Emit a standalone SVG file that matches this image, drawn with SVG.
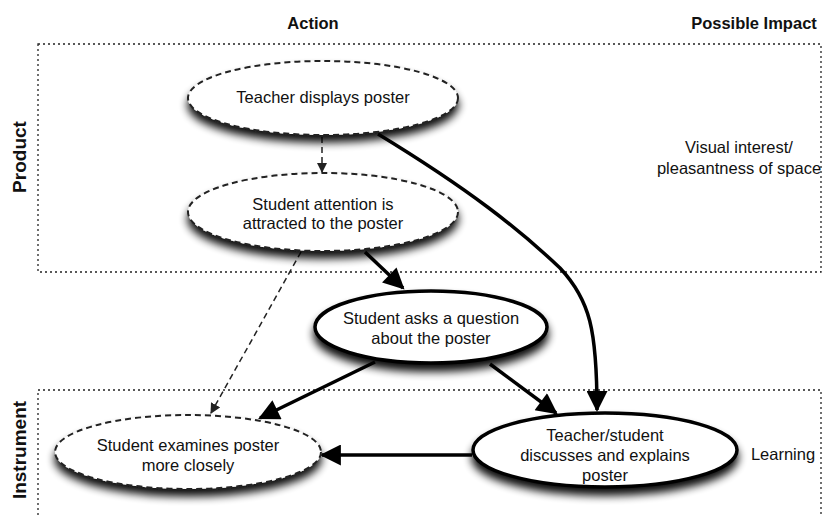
<svg xmlns="http://www.w3.org/2000/svg" width="825" height="517" viewBox="0 0 825 517">
  <style>
    .zone { fill: none; stroke: #222; stroke-width: 1.3; stroke-dasharray: 2 3; }
    .head { font-family: "Liberation Sans", Arial, sans-serif; font-size: 16.5px; font-weight: bold; fill: #111; }
    .side { font-family: "Liberation Sans", Arial, sans-serif; font-size: 19px; font-weight: bold; fill: #111; text-anchor: middle; }
    .lbl { font-family: "Liberation Sans", Arial, sans-serif; font-size: 16.5px; fill: #111; text-anchor: middle; }
    .node-dash { fill: #fff; stroke: #222; stroke-width: 2; stroke-dasharray: 6 4; }
    .node-solid { fill: #fff; stroke: #000; stroke-width: 3.5; }
    .edge { fill: none; stroke: #000; stroke-width: 3.5; }
    .edge-dash { fill: none; stroke: #222; stroke-width: 1.5; stroke-dasharray: 6 4; }
  </style>
  <defs>
    <filter id="shadow" x="-20%" y="-30%" width="140%" height="170%">
      <feGaussianBlur in="SourceAlpha" stdDeviation="4"/>
      <feOffset dx="0" dy="7" result="blur"/>
      <feComponentTransfer><feFuncA type="linear" slope="0.95"/></feComponentTransfer>
      <feMerge><feMergeNode/><feMergeNode in="SourceGraphic"/></feMerge>
    </filter>
    <marker id="arrow" viewBox="0 0 10 10" refX="9" refY="5" markerWidth="6.5" markerHeight="6" markerUnits="strokeWidth" orient="auto">
      <path d="M0,0 L10,5 L0,10 Z" fill="#000"/>
    </marker>
    <marker id="arrow-small" viewBox="0 0 10 10" refX="9" refY="5" markerWidth="7" markerHeight="7" markerUnits="strokeWidth" orient="auto">
      <path d="M0,0 L10,5 L0,10 Z" fill="#222"/>
    </marker>
  </defs>

  <rect width="825" height="517" fill="#fff"/>

  <!-- column headings -->
  <text class="head" x="313" y="29" text-anchor="middle">Action</text>
  <text class="head" x="754" y="29" text-anchor="middle">Possible Impact</text>

  <!-- zones -->
  <g id="zone-product">
    <rect class="zone" x="38" y="44" width="783" height="228"/>
    <text class="side" transform="translate(26,157) rotate(-90)">Product</text>
  </g>
  <g id="zone-instrument">
    <path class="zone" d="M38,520 L38,390 L821,390 L821,520"/>
    <text class="side" transform="translate(26,450) rotate(-90)">Instrument</text>
  </g>

  <!-- impacts -->
  <g id="impact-visual">
    <text class="lbl" x="739" y="153">Visual interest/</text>
    <text class="lbl" x="739" y="174">pleasantness of space</text>
  </g>
  <g id="impact-learning">
    <text class="lbl" x="783" y="460">Learning</text>
  </g>

  <!-- connectors -->
  <g id="connectors">
    <path class="edge-dash" d="M322,137 L322,172" marker-end="url(#arrow-small)"/>
    <path class="edge" d="M378,134 C470,190 520,230 560,268 C590,300 597,330 597,410" marker-end="url(#arrow)"/>
    <path class="edge" d="M365,252 L403,288" marker-end="url(#arrow)"/>
    <path class="edge-dash" d="M301,252 L211,413" marker-end="url(#arrow-small)"/>
    <path class="edge" d="M375,362 L260,418" marker-end="url(#arrow)"/>
    <path class="edge" d="M490,364 L556,413" marker-end="url(#arrow)"/>
    <path class="edge" d="M472,455 L322,455" marker-end="url(#arrow)"/>
  </g>

  <!-- nodes -->
  <g id="teacher-displays">
    <ellipse class="node-dash" cx="323" cy="98" rx="135" ry="37" filter="url(#shadow)"/>
    <text class="lbl" x="323" y="103">Teacher displays poster</text>
  </g>
  <g id="student-attention">
    <ellipse class="node-dash" cx="323" cy="212" rx="135" ry="39" filter="url(#shadow)"/>
    <text class="lbl" x="323" y="210">Student attention is</text>
    <text class="lbl" x="323" y="229">attracted to the poster</text>
  </g>
  <g id="student-asks">
    <ellipse class="node-solid" cx="431" cy="327" rx="116" ry="36" filter="url(#shadow)"/>
    <text class="lbl" x="431" y="324">Student asks a question</text>
    <text class="lbl" x="431" y="344">about the poster</text>
  </g>
  <g id="student-examines">
    <ellipse class="node-dash" cx="188" cy="452" rx="133" ry="37" filter="url(#shadow)"/>
    <text class="lbl" x="188" y="451">Student examines poster</text>
    <text class="lbl" x="188" y="471">more closely</text>
  </g>
  <g id="teacher-student-discuss">
    <ellipse class="node-solid" cx="605" cy="450" rx="132" ry="37" filter="url(#shadow)"/>
    <text class="lbl" x="605" y="441">Teacher/student</text>
    <text class="lbl" x="605" y="461">discusses and explains</text>
    <text class="lbl" x="605" y="481">poster</text>
  </g>
</svg>
